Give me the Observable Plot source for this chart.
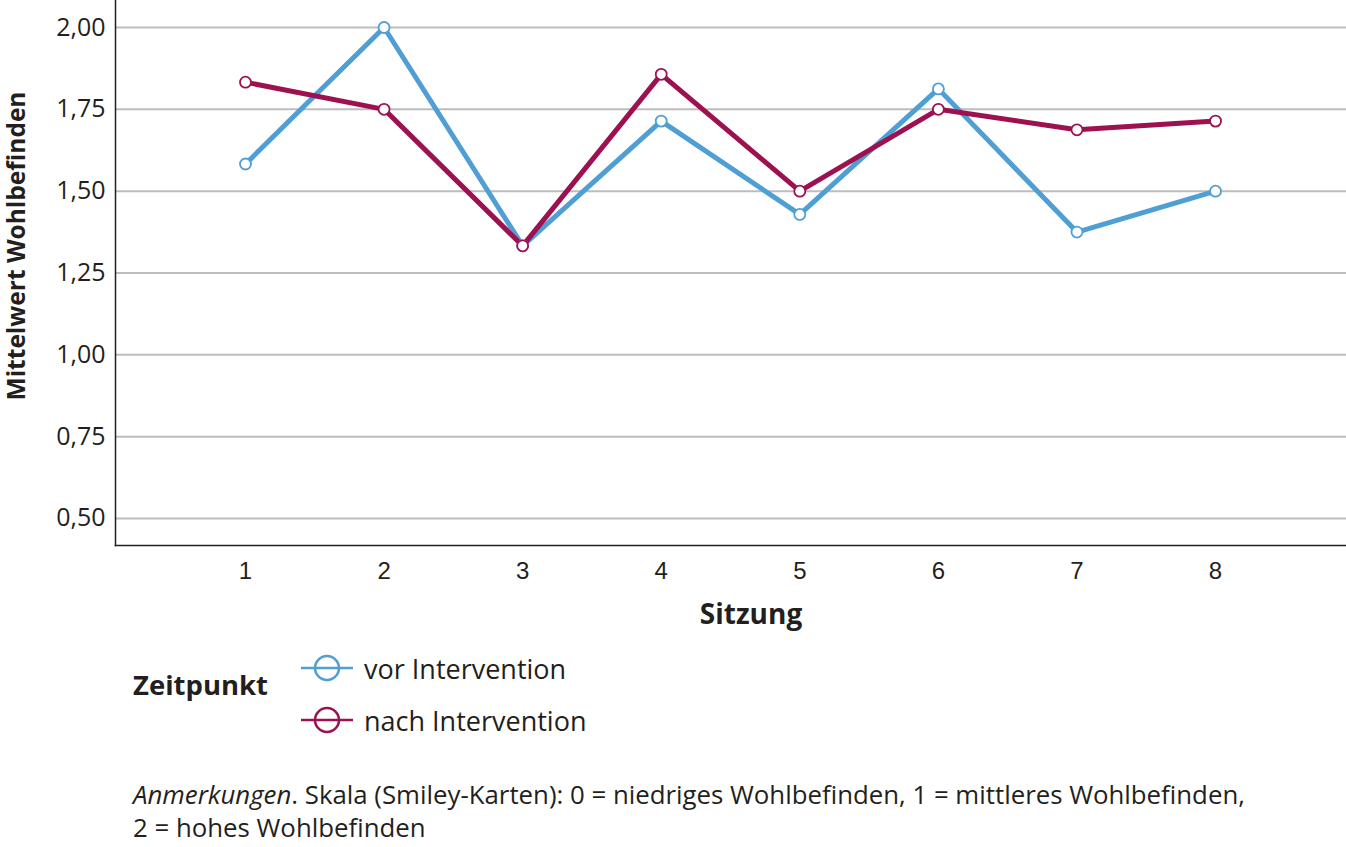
<!DOCTYPE html>
<html>
<head>
<meta charset="utf-8">
<script src="https://cdn.jsdelivr.net/npm/d3@7"></script>
<script src="https://cdn.jsdelivr.net/npm/@observablehq/plot@0.6"></script>
<style>
  body { margin: 0; background: #fff; font-family: "Open Sans", sans-serif; color: #231f20; }
  #chart svg { display: block; }
  .caption { position: absolute; left: 133px; top: 778px; font-size: 25.8px; line-height: 33px; width: 1210px; white-space: nowrap; }
</style>
</head>
<body>
<div id="chart"></div>
<div id="legendbox"></div>
<div class="caption" id="caption"></div>
<script>
const sessions = [1, 2, 3, 4, 5, 6, 7, 8];
const vorValues = [1.583, 2.00, 1.333, 1.714, 1.429, 1.8125, 1.375, 1.50];
const nachValues = [1.833, 1.75, 1.333, 1.857, 1.50, 1.75, 1.6875, 1.714];
const seriesNames = ["vor Intervention", "nach Intervention"];
const seriesColors = ["#4f9fd4", "#9e1150"];
const yTicks = [0.50, 0.75, 1.00, 1.25, 1.50, 1.75, 2.00];

const data = [];
sessions.forEach((s, i) => data.push({session: s, value: vorValues[i], series: seriesNames[0]}));
sessions.forEach((s, i) => data.push({session: s, value: nachValues[i], series: seriesNames[1]}));

const fmt = d => d.toFixed(2).replace(".", ",");

const plot = Plot.plot({
  width: 1346,
  height: 645,
  marginLeft: 115,
  marginRight: 0,
  marginTop: 0,
  marginBottom: 100,
  style: {fontFamily: "Open Sans", background: "#fff"},
  x: {domain: [0.062, 8.945], ticks: sessions, tickFormat: d => String(d)},
  y: {domain: [0.4175, 2.0825], ticks: yTicks, tickFormat: fmt},
  color: {domain: seriesNames, range: seriesColors},
  marks: [
    Plot.ruleY(yTicks, {stroke: "#bdbdbd", strokeWidth: 2}),
    Plot.axisY({ticks: yTicks, tickFormat: fmt, tickSize: 0, tickPadding: 10, fontSize: 25, fill: "#231f20", label: null}),
    Plot.axisX({ticks: sessions, tickSize: 0, tickPadding: 16, fontSize: 24, fontFamily: "Liberation Sans", fill: "#231f20", label: null}),
    Plot.text(["Sitzung"], {frameAnchor: "bottom", dy: 78, dx: 20, fontSize: 28, fontWeight: "bold", fill: "#231f20"}),
    Plot.text(["Mittelwert Wohlbefinden"], {frameAnchor: "left", textAnchor: "middle", rotate: -90, dx: -98, dy: -27, fontSize: 24.5, fontWeight: "bold", fill: "#231f20"}),
    Plot.line(data, {x: "session", y: "value", stroke: "series", z: "series", strokeWidth: 5, strokeLinejoin: "miter"}),
    Plot.dot(data, {x: "session", y: "value", stroke: "series", fill: "white", r: 5.5, strokeWidth: 1.8}),
    Plot.frame({anchor: "left", stroke: "#231f20", strokeWidth: 1.5}),
    Plot.frame({anchor: "bottom", stroke: "#231f20", strokeWidth: 1.5})
  ]
});
document.getElementById("chart").appendChild(plot);

// Legend
const lb = document.getElementById("legendbox");
lb.style.position = "absolute"; lb.style.left = "0"; lb.style.top = "0";
const title = document.createElement("div");
title.textContent = "Zeitpunkt";
Object.assign(title.style, {position: "absolute", left: "133px", top: "667px", fontSize: "27.5px", fontWeight: "bold", lineHeight: "36px"});
lb.appendChild(title);
seriesNames.forEach((name, i) => {
  const row = document.createElement("div");
  Object.assign(row.style, {position: "absolute", left: "300px", top: (650 + i * 52) + "px", display: "flex", alignItems: "center", height: "36px", whiteSpace: "nowrap"});
  const svg = d3.create("svg").attr("width", 54).attr("height", 36);
  svg.append("line").attr("x1", 1).attr("x2", 53).attr("y1", 18).attr("y2", 18).attr("stroke", seriesColors[i]).attr("stroke-width", 2.5);
  svg.append("circle").attr("cx", 27).attr("cy", 18).attr("r", 12).attr("fill", "none").attr("stroke", seriesColors[i]).attr("stroke-width", 2.5);
  row.appendChild(svg.node());
  const t = document.createElement("span");
  t.textContent = name;
  Object.assign(t.style, {marginLeft: "10px", fontSize: "27px"});
  row.appendChild(t);
  lb.appendChild(row);
});

document.getElementById("caption").innerHTML =
  "<i>Anmerkungen</i>. Skala (Smiley-Karten): 0 = niedriges Wohlbefinden, 1 = mittleres Wohlbefinden,<br>2 = hohes Wohlbefinden";
</script>
</body>
</html>
